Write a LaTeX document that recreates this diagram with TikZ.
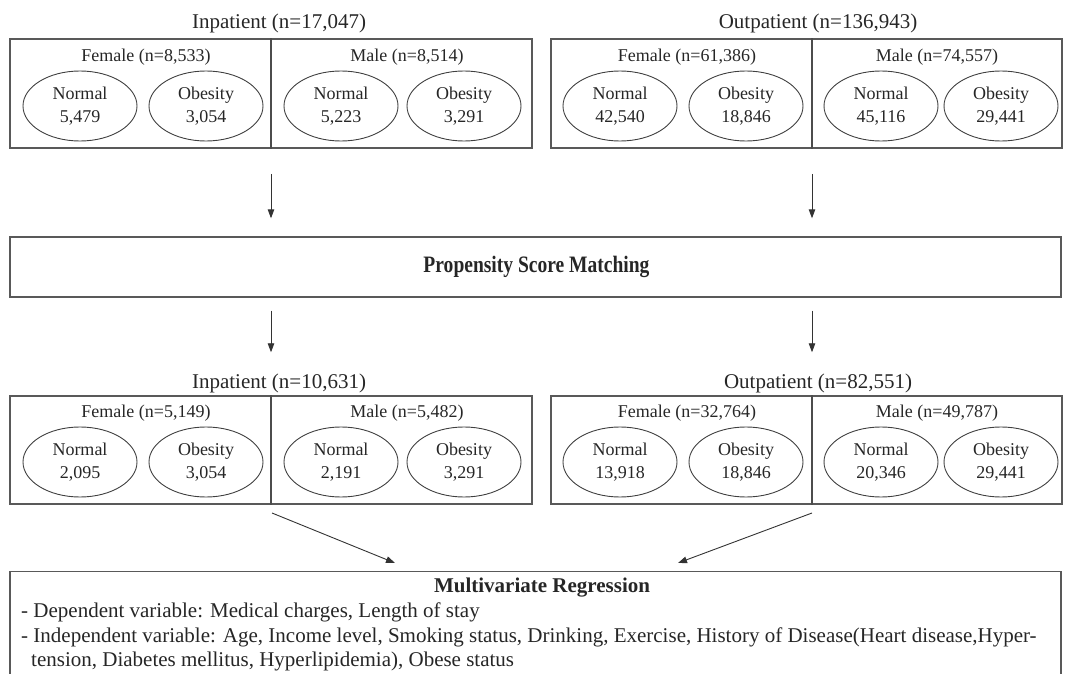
\documentclass[tikz,border=0pt]{standalone}
\usepackage{fontspec}
\setmainfont{Liberation Serif}
\usetikzlibrary{shapes.geometric,arrows.meta}
\tikzset{
 frame/.style={draw=black!65, line width=1.4pt, inner sep=0pt},
 ell/.style={ellipse, draw=black!75, line width=0.9pt, minimum width=114pt, minimum height=70pt, inner sep=0pt, align=center, text=black!85, font=\fontsize{18}{23}\selectfont},
 lab/.style={font=\fontsize{18}{22}\selectfont, inner sep=0pt, text=black!85},
 ttl/.style={font=\fontsize{21}{25}\selectfont, inner sep=0pt, text=black!85},
 arr/.style={-{Triangle[length=9pt,width=6.5pt]}, draw=black!80, line width=0.9pt},
 divl/.style={draw=black!70, line width=1.4pt},
}
\begin{document}
\begin{tikzpicture}[x=1pt,y=-1pt]
\useasboundingbox (0,0) rectangle (1066,674);
% ---------- top row ----------
\node[ttl] (t1) at (279,23) {Inpatient (n=17,047)};
\node[ttl] (t2) at (818,23) {Outpatient (n=136,943)};
\node[frame, minimum width=522pt, minimum height=109pt] (b1) at (271,93.5) {};
\node[frame, minimum width=511pt, minimum height=109pt] (b2) at (806.5,93.5) {};
\draw[divl] (b1.north) -- (b1.south);
\draw[divl] ([xshift=5.5pt]b2.north) -- ([xshift=5.5pt]b2.south);
\node[lab] (f1) at (146,57) {Female (n=8,533)};
\node[lab] (m1) at (407,57) {Male (n=8,514)};
\node[lab] (f2) at (687,57) {Female (n=61,386)};
\node[lab] (m2) at (937,57) {Male (n=74,557)};
\node[ell] (e11) at (80,106) {Normal\\5,479};
\node[ell] (e12) at (206,106) {Obesity\\3,054};
\node[ell] (e13) at (341,106) {Normal\\5,223};
\node[ell] (e14) at (464,106) {Obesity\\3,291};
\node[ell] (e21) at (620,106) {Normal\\42,540};
\node[ell] (e22) at (746,106) {Obesity\\18,846};
\node[ell] (e23) at (881,106) {Normal\\45,116};
\node[ell] (e24) at (1001,106) {Obesity\\29,441};
% ---------- PSM ----------
\node[frame, minimum width=1051pt, minimum height=60pt] (psm) at (535.5,267) {};
\node[font=\bfseries\fontsize{21}{25}\selectfont, text=black!85, inner sep=0pt] (psmt) at (536.5,267) {\scalebox{0.93}[1.12]{Propensity Score Matching}};
\coordinate (a1) at (271,148);
\coordinate (a2) at (812,148);
\draw[arr, shorten <=26pt, shorten >=18pt] (a1) -- (a1 |- psm.north);
\draw[arr, shorten <=26pt, shorten >=18pt] (a2) -- (a2 |- psm.north);
% ---------- bottom row ----------
\node[ttl] (t3) at (279,383) {Inpatient (n=10,631)};
\node[ttl] (t4) at (818,383) {Outpatient (n=82,551)};
\node[frame, minimum width=522pt, minimum height=108pt] (b3) at (271,450) {};
\node[frame, minimum width=511pt, minimum height=108pt] (b4) at (806.5,450) {};
\draw[divl] (b3.north) -- (b3.south);
\draw[divl] ([xshift=5.5pt]b4.north) -- ([xshift=5.5pt]b4.south);
\node[lab] (f3) at (146,413) {Female (n=5,149)};
\node[lab] (m3) at (407,413) {Male (n=5,482)};
\node[lab] (f4) at (687,413) {Female (n=32,764)};
\node[lab] (m4) at (937,413) {Male (n=49,787)};
\node[ell] (e31) at (80,462) {Normal\\2,095};
\node[ell] (e32) at (206,462) {Obesity\\3,054};
\node[ell] (e33) at (341,462) {Normal\\2,191};
\node[ell] (e34) at (464,462) {Obesity\\3,291};
\node[ell] (e41) at (620,462) {Normal\\13,918};
\node[ell] (e42) at (746,462) {Obesity\\18,846};
\node[ell] (e43) at (881,462) {Normal\\20,346};
\node[ell] (e44) at (1001,462) {Obesity\\29,441};
\draw[arr, shorten <=13pt, shorten >=21pt] (psm.south -| a1) -- (a1 |- t3.north);
\draw[arr, shorten <=13pt, shorten >=21pt] (psm.south -| a2) -- (a2 |- t4.north);
% ---------- regression ----------
\node[frame, minimum width=1051pt, minimum height=120pt, anchor=north] (mr) at (535.5,571) {};
\coordinate (tipL) at (395,563);
\coordinate (tipR) at (678,563);
\coordinate (stL) at (272,513);
\coordinate (stR) at (812,513);
\draw[arr] (stL) -- (tipL);
\draw[arr] (stR) -- (tipR);
\node[font=\bfseries\fontsize{21}{25}\selectfont, text=black!85, inner sep=0pt] (mrt) at (542,588) {Multivariate Regression};
\node[ttl, anchor=west] (l1) at (21,612) {- Dependent variable: Medical charges, Length of stay};
\node[ttl, anchor=west] (l2) at (21,637) {- Independent variable: Age, Income level, Smoking status, Drinking, Exercise, History of Disease(Heart disease,Hyper-};
\node[ttl, anchor=west] (l3) at (31,661) {tension, Diabetes mellitus, Hyperlipidemia), Obese status};
\end{tikzpicture}
\end{document}
